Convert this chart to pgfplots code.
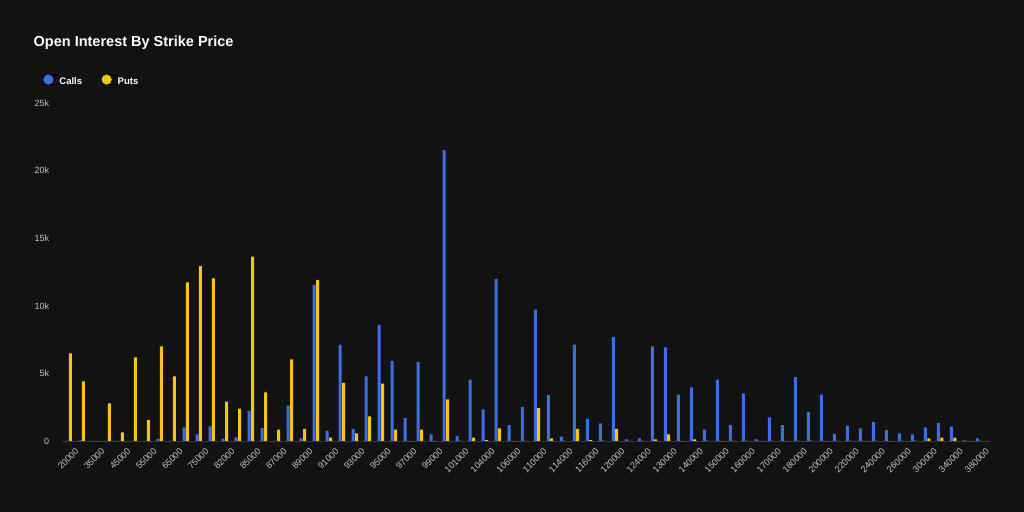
\documentclass[border=0pt]{standalone}
\usepackage{pgfplots}
\usepackage{pgfplotstable}
\pgfplotsset{compat=1.18}
\usepackage{fontspec}
\setmainfont{Liberation Sans}
\definecolor{bg}{HTML}{121212}
\definecolor{cblue}{HTML}{3A70E6}
\definecolor{cyellow}{HTML}{F8C315}
\definecolor{ticktext}{HTML}{C4C4C4}
\definecolor{baseline}{HTML}{3A3A3A}

\pgfplotstableread{
idx calls puts
0 0 6480
1 50 4410
2 0 0
3 0 2790
4 0 640
5 0 6190
6 0 1550
7 150 7000
8 0 4780
9 1010 11740
10 490 12940
11 1090 12030
12 150 2910
13 270 2390
14 2220 13630
15 960 3600
16 0 840
17 2610 6040
18 200 890
19 11540 11910
20 740 250
21 7130 4290
22 890 570
23 4780 1820
24 8580 4240
25 5920 840
26 1700 0
27 5840 840
28 490 0
29 21520 3080
30 370 0
31 4540 250
32 2340 70
33 11980 940
34 1180 0
35 2510 0
36 9720 2440
37 3400 200
38 320 0
39 7120 890
40 1630 70
41 1310 0
42 7680 890
43 120 0
44 200 0
45 7000 120
46 6930 490
47 3430 0
48 3970 120
49 840 0
50 4540 0
51 1180 0
52 3530 0
53 120 0
54 1750 0
55 1180 0
56 4730 0
57 2150 0
58 3430 0
59 520 0
60 1130 0
61 940 0
62 1400 0
63 810 0
64 570 0
65 490 0
66 1010 200
67 1330 250
68 1060 250
69 50 0
70 200 0
}\oi

\begin{document}
\begin{tikzpicture}
\fill[bg] (0,0) rectangle (1024bp,512bp);
\node[anchor=base west, text=white, font=\bfseries\fontsize{14.5bp}{17bp}\selectfont, inner sep=0pt] at (33.5bp,465bp) {Open Interest By Strike Price};
\begin{axis}[
  at={(61.7bp,71bp)}, anchor=south west,
  scale only axis, width=928bp, height=338bp,
  xmin=-0.54, xmax=70.81, ymin=0, ymax=25000,
  axis x line*=bottom, axis y line*=left,
  x axis line style={draw=baseline, line width=0.8bp, -},
  y axis line style={draw=none},
  major tick length=0pt,
  tick style={draw=none},
  scaled y ticks=false,
  xtick={0,2,...,70},
  xticklabels={20000,35000,45000,55000,65000,75000,82000,85000,87000,89000,91000,93000,95000,97000,99000,101000,104000,106000,110000,114000,116000,120000,124000,130000,140000,150000,160000,170000,180000,200000,220000,240000,260000,300000,340000,380000},
  xticklabel style={rotate=45, anchor=east, inner sep=0pt, text=ticktext, font=\fontsize{9bp}{10bp}\selectfont, xshift=-0.3bp, yshift=-12.3bp},
  ytick={0,5000,10000,15000,20000,25000},
  yticklabels={0,5k,10k,15k,20k,25k},
  yticklabel style={anchor=east, inner sep=0pt, text=ticktext, font=\fontsize{9bp}{10bp}\selectfont, xshift=-12.4bp},
  legend columns=2,
  legend style={at={(-0.0200,1.0672)}, anchor=west, draw=none, fill=none, inner sep=0pt,
    nodes={inner sep=0pt, text=white, font=\bfseries\fontsize{9.5bp}{11bp}\selectfont},
    /tikz/every even column/.append style={column sep=19.5bp}},
]
\addplot[ybar, bar width=3bp, bar shift=-1.7bp, fill=cblue, draw=none, forget plot] table[x=idx, y=calls] {\oi};
\addplot[ybar, bar width=3bp, bar shift=1.7bp, fill=cyellow, draw=none, forget plot] table[x=idx, y=puts] {\oi};
\addlegendimage{legend image code/.code={\path (0bp,-2.6bp) rectangle (15.7bp,7.0bp); \fill[cblue] (4.8bp,2.2bp) circle (4.8bp);}}
\addlegendentry{Calls}
\addlegendimage{legend image code/.code={\path (0bp,-2.6bp) rectangle (15.7bp,7.0bp); \fill[cyellow] (4.8bp,2.2bp) circle (4.8bp);}}
\addlegendentry{Puts}
\end{axis}
\pgfresetboundingbox
\useasboundingbox (0,0) rectangle (1024bp,512bp);
\end{tikzpicture}
\end{document}
